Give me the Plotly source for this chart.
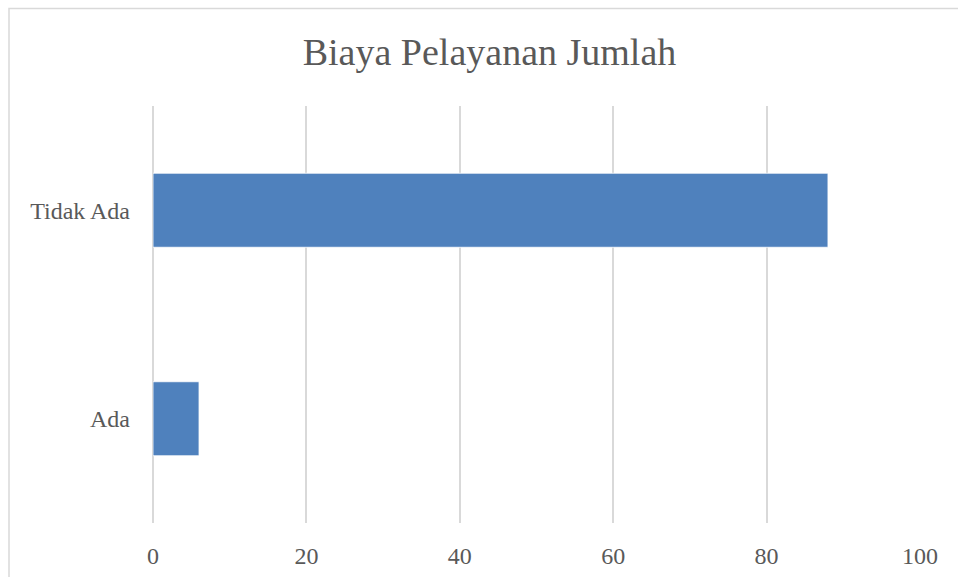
import plotly.graph_objects as go

categories = ["Ada", "Tidak Ada"]
values = [6, 88]
x_ticks = [0, 20, 40, 60, 80, 100]
title_text = "Biaya Pelayanan Jumlah"

FONT = "Liberation Serif"
GREY_TXT = "#595959"
GRID = "#D9D9D9"

fig = go.Figure(go.Bar(
    y=categories, x=values, orientation="h",
    marker=dict(color="#4F81BD", line=dict(color="#FFFFFF", width=0.8)),
))

fig.update_layout(
    width=958, height=577,
    margin=dict(l=153, r=38, t=106, b=54),
    paper_bgcolor="white", plot_bgcolor="white",
    bargap=0.645,
    showlegend=False,
    title=dict(text=title_text, x=489.5 / 958, xref="container", y=1 - 52 / 577,
               yref="container", xanchor="center", yanchor="middle",
               font=dict(family=FONT, size=38, color=GREY_TXT)),
    font=dict(family=FONT, color=GREY_TXT, size=24),
    xaxis=dict(range=[0, 100], tickvals=x_ticks, showgrid=True, gridcolor=GRID,
               gridwidth=1.5, zeroline=True, zerolinecolor=GRID, zerolinewidth=1.5,
               showline=False, ticks="", automargin=False,
               ticklabelstandoff=16, tickfont=dict(family=FONT, size=24, color=GREY_TXT)),
    yaxis=dict(showgrid=False, zeroline=False, showline=False, ticks="", automargin=False,
               ticklabelstandoff=22, tickfont=dict(family=FONT, size=24, color=GREY_TXT)),
    shapes=[dict(type="rect", xref="paper", yref="paper",
                 x0=(9 - 153) / 767, x1=1.3, y0=-0.3, y1=1 + (106 - 8.5) / 417,
                 line=dict(color="#D9D9D9", width=1.5), fillcolor="rgba(0,0,0,0)",
                 layer="below")],
)

fig.write_html(
    "out.html",
    config={"displayModeBar": False},
    post_script="document.body.style.margin='0';document.body.style.overflow='hidden';",
)
